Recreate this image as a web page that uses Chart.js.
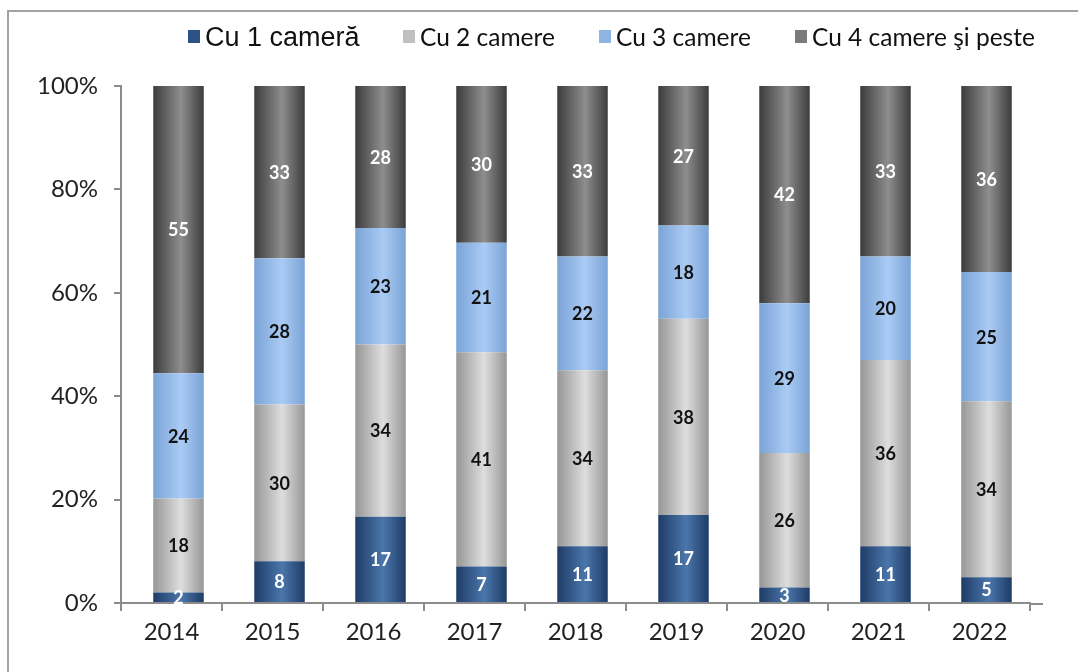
<!DOCTYPE html>
<html>
<head>
<meta charset="utf-8">
<script src="https://cdn.jsdelivr.net/npm/chart.js@4.4.1/dist/chart.umd.min.js"></script>
<style>
  html, body { margin: 0; padding: 0; background: #fff; overflow: hidden; }
  .wrap { position: relative; width: 1078px; height: 672px; overflow: hidden; }
  .frame { position: absolute; left: 7px; top: 10px; width: 1100px; height: 700px; border-left: 2px solid #a3a3a3; border-top: 2px solid #a3a3a3; }
  canvas { position: absolute; left: 0; top: 0; }
  .legend-item { position: absolute; top: 22px; height: 28px; white-space: nowrap; color: #111; }
  .legend-dot { position: absolute; top: 8px; left: 0; width: 12px; height: 13px; }
  .legend-text { position: absolute; left: 17px; top: 0; line-height: 28px; }
</style>
</head>
<body>
<div class="wrap">
  <div class="frame"></div>
  <canvas id="chart" width="1078" height="672"></canvas>
  <div id="legend"></div>
</div>
<script>
const categories = ['2014', '2015', '2016', '2017', '2018', '2019', '2020', '2021', '2022'];
const seriesNames = ['Cu 1 cameră', 'Cu 2 camere', 'Cu 3 camere', 'Cu 4 camere şi peste'];
const cu1 = [2, 8, 17, 7, 11, 17, 3, 11, 5];
const cu2 = [18, 30, 34, 41, 34, 38, 26, 36, 34];
const cu3 = [24, 28, 23, 21, 22, 18, 29, 20, 25];
const cu4 = [55, 33, 28, 30, 33, 27, 42, 33, 36];
const yTicks = [0, 20, 40, 60, 80, 100];

const barPct = 0.5;
const barShift = 7; // bars sit a little right of the category centre in the original
const seriesValues = [cu1, cu2, cu3, cu4];
// edge colour, centre colour
const shades = [
  ['#1e3c66', '#4b76ab'],
  ['#969696', '#dedede'],
  ['#7aa3d6', '#aacbf4'],
  ['#3c3c3c', '#8e8e8e'],
];
const legendColors = ['#2c5288', '#c0c0c0', '#8db4e2', '#7a7a7a'];
const labelColors = ['#ffffff', '#111111', '#111111', '#ffffff'];

const totals = categories.map((_, i) => seriesValues.reduce((sum, s) => sum + s[i], 0));

function shade(pair) {
  return (ctx) => {
    const chart = ctx.chart;
    const xs = chart.scales.x;
    if (!xs || ctx.dataIndex === undefined) return pair[1];
    const cx = xs.getPixelForValue(ctx.dataIndex);
    const half = (xs.width / categories.length) * barPct / 2;
    if (!Number.isFinite(cx) || !Number.isFinite(half) || half <= 0) return pair[1];
    const g = chart.ctx.createLinearGradient(cx - half, 0, cx + half, 0);
    g.addColorStop(0, pair[0]);
    g.addColorStop(0.55, pair[1]);
    g.addColorStop(1, pair[0]);
    return g;
  };
}

const barLayer = {
  id: 'barLayer',
  beforeDatasetsDraw(chart) {
    chart.ctx.save();
    chart.ctx.translate(barShift, 0);
  },
  afterDatasetsDraw(chart) {
    const c = chart.ctx;
    c.font = 'bold 18px Lato';
    c.textAlign = 'center';
    c.textBaseline = 'middle';
    chart.data.datasets.forEach((ds, di) => {
      chart.getDatasetMeta(di).data.forEach((el, i) => {
        c.fillStyle = labelColors[di];
        c.fillText(String(seriesValues[di][i]), el.x, (el.y + el.base) / 2 + 1);
      });
    });
    c.restore();
  },
};

// the category axis line runs on a little past the last tick
const axisTail = {
  id: 'axisTail',
  afterDraw(chart) {
    const a = chart.chartArea;
    const c = chart.ctx;
    c.save();
    c.strokeStyle = '#8c8c8c';
    c.lineWidth = 2;
    c.beginPath();
    c.moveTo(a.right, a.bottom + 1);
    c.lineTo(a.right + 13, a.bottom + 1);
    c.stroke();
    c.restore();
  },
};

new Chart(document.getElementById('chart'), {
  type: 'bar',
  data: {
    labels: categories,
    datasets: seriesValues.map((values, di) => ({
      label: seriesNames[di],
      data: values.map((v, i) => (v / totals[i]) * 100),
      backgroundColor: shade(shades[di]),
      borderWidth: 0,
      barPercentage: barPct,
      categoryPercentage: 1,
    })),
  },
  options: {
    responsive: false,
    animation: false,
    layout: { padding: { top: 86, right: 48, left: 0, bottom: 0 } },
    plugins: {
      legend: { display: false },
      tooltip: { enabled: false },
    },
    scales: {
      x: {
        stacked: true,
        offset: true,
        afterFit(scale) { scale.height = 69; },
        grid: { offset: true, drawOnChartArea: false, drawTicks: true, tickLength: 8, color: '#8c8c8c', lineWidth: 2 },
        border: { color: '#8c8c8c', width: 2 },
        ticks: { color: '#222', font: { family: 'Lato', size: 24 }, padding: 7 },
      },
      y: {
        stacked: true,
        min: 0,
        max: 100,
        afterFit(scale) { scale.width = 121; },
        afterBuildTicks(scale) { scale.ticks = yTicks.map((v) => ({ value: v })); },
        grid: { drawOnChartArea: false, drawTicks: true, tickLength: 7, color: '#8c8c8c', lineWidth: 2 },
        border: { color: '#8c8c8c', width: 2 },
        ticks: { color: '#222', font: { family: 'Lato', size: 24 }, padding: 16, callback: (v) => v + '%' },
      },
    },
  },
  plugins: [barLayer, axisTail],
});

const legendPos = [
  { left: 188, font: "27px 'Liberation Sans'" },
  { left: 403, font: '24.5px Lato' },
  { left: 599, font: '24.5px Lato' },
  { left: 795, font: '24.5px Lato' },
];
document.getElementById('legend').innerHTML = seriesNames
  .map((name, i) => `
    <div class="legend-item" style="left:${legendPos[i].left}px">
      <span class="legend-dot" style="background:${legendColors[i]}"></span>
      <span class="legend-text" style="font:${legendPos[i].font}">${name}</span>
    </div>
  `)
  .join('');
</script>
</body>
</html>
